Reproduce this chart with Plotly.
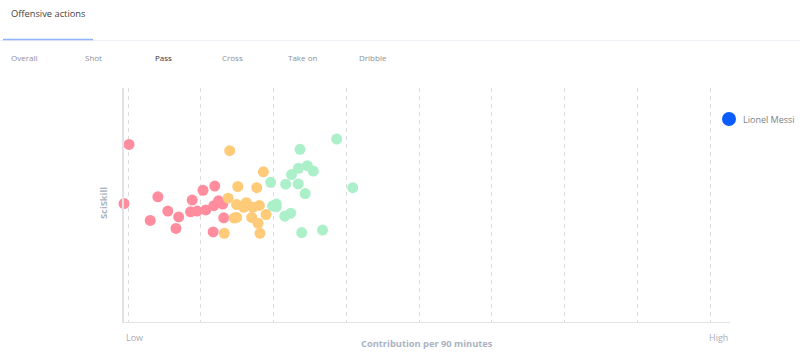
import plotly.graph_objects as go

# ---- data (contribution per 90 in grid units, SciSkill 0-100) ----
red_x = [0.014, -0.055, 0.41, 0.305, 0.547, 0.696, 0.659, 0.882, 1.03, 1.192,
         0.859, 0.951, 1.069, 1.179, 1.243, 1.301, 1.315, 1.170]
red_y = [75.9, 50.6, 53.5, 43.4, 47.4, 44.9, 40.0, 52.1, 56.3, 58.1,
         47.1, 47.4, 47.9, 49.7, 51.8, 50.4, 44.5, 38.5]
orange_x = [1.397, 1.859, 1.508, 1.768, 1.376, 1.493, 1.625, 1.589, 1.713, 1.804,
            1.896, 1.459, 1.493, 1.699, 1.786, 1.323, 1.813]
orange_y = [73.2, 64.2, 57.9, 57.4, 52.9, 50.2, 51.0, 49.0, 49.0, 49.8,
            45.9, 44.4, 44.7, 44.7, 42.2, 37.9, 37.9]
green_x = [2.867, 2.363, 2.463, 2.342, 2.545, 2.246, 1.960, 2.166, 2.338, 2.434,
           3.087, 1.985, 2.037, 2.037, 2.154, 2.235, 2.386, 2.672]
green_y = [78.2, 73.8, 66.8, 65.7, 64.5, 63.0, 59.7, 58.9, 59.0, 54.9,
           57.4, 49.6, 50.4, 49.3, 45.2, 46.5, 38.2, 39.3]
highlight_name = "Lionel Messi"
highlight_color = "#0a5cff"
tabs = ["Overall", "Shot", "Pass", "Cross", "Take on", "Dribble"]
active_tab = "Pass"
grid_ticks = [0, 1, 2, 3, 4, 5, 6, 7, 8]

# ---- layout geometry ----
W, H = 800, 355
L, R, T, B = 124, 70, 88, 33
PW, PH = W - L - R, H - T - B

def px(xp):
    return (xp - L) / PW

def py(yp):
    return (H - B - yp) / PH

FONT = "Open Sans"
fig = go.Figure()
marker_common = dict(size=11, line=dict(width=0))
fig.add_trace(go.Scatter(x=red_x, y=red_y, mode="markers", showlegend=False,
                         marker=dict(color="#ff8d9d", **marker_common), cliponaxis=False,
                         hoverinfo="skip"))
fig.add_trace(go.Scatter(x=orange_x, y=orange_y, mode="markers", showlegend=False,
                         marker=dict(color="#ffcb78", **marker_common), cliponaxis=False,
                         hoverinfo="skip"))
fig.add_trace(go.Scatter(x=green_x, y=green_y, mode="markers", showlegend=False,
                         marker=dict(color="#acf0c9", **marker_common), cliponaxis=False,
                         hoverinfo="skip"))

fig.update_layout(
    width=W, height=H,
    margin=dict(l=L, r=R, t=T, b=B, pad=0, autoexpand=False),
    paper_bgcolor="white", plot_bgcolor="white",
    font=dict(family=FONT, size=10, color="#888"),
    xaxis=dict(range=[-0.055, 8.27], tickvals=grid_ticks, showticklabels=False,
               showgrid=True, gridcolor="#dcdcdc", griddash="4px,4px", gridwidth=1,
               zeroline=False, showline=True, linecolor="#e2e4e8", linewidth=1,
               ticks="", fixedrange=True),
    yaxis=dict(range=[0, 100], showticklabels=False, showgrid=False, zeroline=False,
               showline=True, linecolor="#dfe2e7", linewidth=2, ticks="", fixedrange=True),
    showlegend=False,
)

ann = []
ann.append(dict(text="Offensive actions", x=px(9), y=py(13), xanchor="left", yanchor="middle",
                font=dict(family=FONT, size=9.3, color="#444")))
tab_x = [9, 83, 153, 220, 286, 357]
for t, xx in zip(tabs, tab_x):
    ann.append(dict(text=t, x=px(xx), y=py(57), xanchor="left", yanchor="middle",
                    font=dict(family=FONT, size=8,
                              color="#333" if t == active_tab else "#8a8f98")))
ann.append(dict(text="Low", x=0, y=py(337), xanchor="left", yanchor="middle",
                font=dict(family=FONT, size=9, color="#a7adb8")))
ann.append(dict(text="High", x=1, y=py(337), xanchor="right", yanchor="middle",
                font=dict(family=FONT, size=9, color="#a7adb8")))
ann.append(dict(text="<b>Contribution per 90 minutes</b>", x=0.5, y=py(343),
                xanchor="center", yanchor="middle",
                font=dict(family=FONT, size=9.3, color="#aab3c3")))
ann.append(dict(text="<b>SciSkill</b>", x=px(103), y=py(203), textangle=-90,
                xanchor="center", yanchor="middle",
                font=dict(family=FONT, size=9.3, color="#aab3c3")))
# legend entry for highlighted player
ann.append(dict(text=highlight_name, x=px(741), y=py(119), xanchor="left", yanchor="middle",
                font=dict(family=FONT, size=9, color="#7a7f88")))
for a in ann:
    a.update(xref="paper", yref="paper", showarrow=False)
fig.update_layout(annotations=ann)

fig.update_layout(shapes=[
    dict(type="line", xref="paper", yref="paper", x0=px(0), x1=px(800), y0=py(40.5), y1=py(40.5),
         line=dict(color="#eef0f5", width=1)),
    dict(type="line", xref="paper", yref="paper", x0=px(3), x1=px(93), y0=py(39.5), y1=py(39.5),
         line=dict(color="#8fb4ff", width=1.5)),
    dict(type="circle", xref="paper", yref="paper", x0=px(722), x1=px(736),
         y0=py(126), y1=py(112), fillcolor=highlight_color, line=dict(width=0)),
])

fig.write_html("out.html")
